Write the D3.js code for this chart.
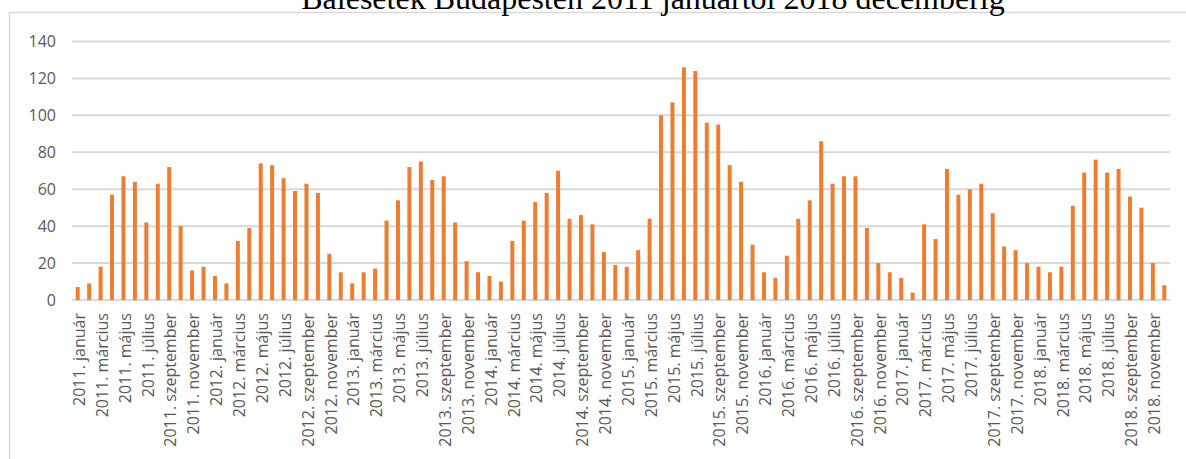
<!DOCTYPE html>
<meta charset="utf-8">
<style>
    body { margin: 0; background: #fff; }
    .title {
        font-family: "Liberation Serif", "Times New Roman", serif;
        font-size: 32px;
        fill: #000;
    }
    .yAxis text, .xLabels text {
        font-family: "Open Sans", sans-serif;
        fill: #595959;
    }
    .yAxis text { font-size: 16px; }
    .xLabels text { font-size: 16px; }
    .grid line {
        stroke: #d9d9d9;
        stroke-width: 2px;
    }
    .bar { fill: #ed7d31; }
</style>
<body>
    <svg width="1186" height="459"></svg>
</body>
<script src="https://d3js.org/d3.v7.min.js"></script>
<script>

    // data
    var years = [2011, 2012, 2013, 2014, 2015, 2016, 2017, 2018];
    var monthNames = ["január", "február", "március", "április", "május", "június",
        "július", "augusztus", "szeptember", "október", "november", "december"];
    var values = [
        7, 9, 18, 57, 67, 64, 42, 63, 72, 40, 16, 18,        // 2011
        13, 9, 32, 39, 74, 73, 66, 59, 63, 58, 25, 15,       // 2012
        9, 15, 17, 43, 54, 72, 75, 65, 67, 42, 21, 15,       // 2013
        13, 10, 32, 43, 53, 58, 70, 44, 46, 41, 26, 19,      // 2014
        18, 27, 44, 100, 107, 126, 124, 96, 95, 73, 64, 30,  // 2015
        15, 12, 24, 44, 54, 86, 63, 67, 67, 39, 20, 15,      // 2016
        12, 4, 41, 33, 71, 57, 60, 63, 47, 29, 27, 20,       // 2017
        18, 15, 18, 51, 69, 76, 69, 71, 56, 50, 20, 8        // 2018
    ];
    var yTicks = [0, 20, 40, 60, 80, 100, 120, 140];
    var titleText = "Balesetek Budapesten 2011 januártól 2018 decemberig";

    var categories = [];
    years.forEach(function (y) {
        monthNames.forEach(function (m) { categories.push(y + ". " + m); });
    });
    var data = categories.map(function (c, i) { return { label: c, value: values[i], i: i }; });

    var svg = d3.select("svg");

    // frame round the chart (only top & left are visible)
    svg.append("path")
        .attr("d", "M9.5,459 V12.5 H1186")
        .attr("fill", "none")
        .attr("stroke", "#d9d9d9")
        .attr("stroke-width", 1.5);

    // title, its top is cut off by the frame of the picture
    svg.append("text")
        .attr("class", "title")
        .attr("x", 653)
        .attr("y", 9)
        .attr("text-anchor", "middle")
        .text(titleText);

    var x = d3.scaleBand()
        .domain(categories)
        .range([72, 1170]);

    var y = d3.scaleLinear()
        .domain([0, 140])
        .range([300, 41.5]);

    // gridlines
    svg.append("g")
        .attr("class", "grid")
        .selectAll("line")
        .data(yTicks)
        .enter().append("line")
        .attr("x1", 72)
        .attr("x2", 1170)
        .attr("y1", function (d) { return y(d); })
        .attr("y2", function (d) { return y(d); });

    // y axis labels
    var yAxis = svg.append("g")
        .attr("class", "yAxis")
        .attr("transform", "translate(56,0)")
        .call(d3.axisLeft(y).tickValues(yTicks).tickSize(0).tickPadding(0));
    yAxis.select(".domain").remove();

    // bars
    var barW = 4;
    svg.append("g")
        .selectAll("rect")
        .data(data)
        .enter().append("rect")
        .attr("class", "bar")
        .attr("x", function (d) { return x(d.label) + x.bandwidth() / 2 - barW / 2; })
        .attr("width", barW)
        .attr("y", function (d) { return y(d.value); })
        .attr("height", function (d) { return y(0) - y(d.value); });

    // x labels - every second month
    svg.append("g")
        .attr("class", "xLabels")
        .selectAll("text")
        .data(data.filter(function (d) { return d.i % 2 === 0; }))
        .enter().append("text")
        .attr("text-anchor", "end")
        .attr("dy", "0.36em")
        .attr("transform", function (d) {
            return "translate(" + (x(d.label) + x.bandwidth() / 2 + 1.5) + ",313) rotate(-90)";
        })
        .text(function (d) { return d.label; });

</script>
